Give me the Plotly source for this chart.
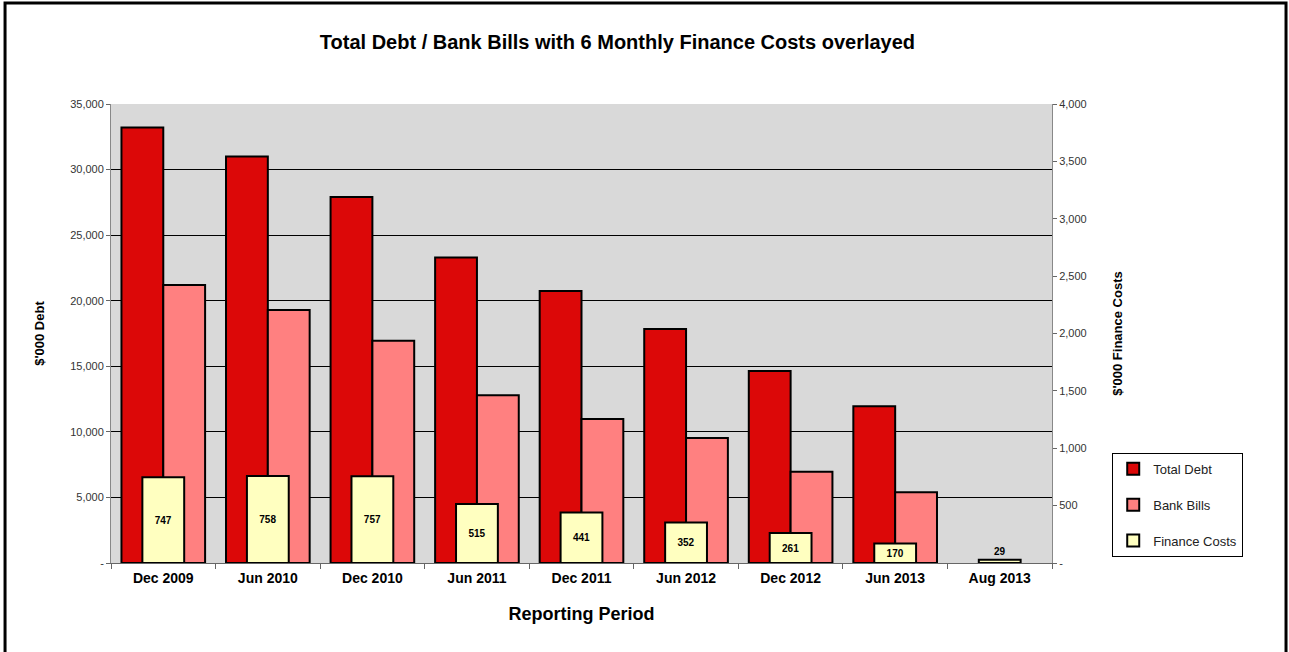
import plotly.graph_objects as go

periods = ['Dec 2009', 'Jun 2010', 'Dec 2010', 'Jun 2011', 'Dec 2011',
           'Jun 2012', 'Dec 2012', 'Jun 2013', 'Aug 2013']
total_debt = [33200, 31000, 27900, 23300, 20750, 17850, 14650, 11950, None]
bank_bills = [21200, 19300, 16950, 12800, 10980, 9530, 6950, 5400, None]
finance_costs = [747, 758, 757, 515, 441, 352, 261, 170, 29]

debt_ticks = [0, 5000, 10000, 15000, 20000, 25000, 30000, 35000]
debt_ticktext = ['-', '5,000', '10,000', '15,000', '20,000', '25,000', '30,000', '35,000']
cost_ticks = [0, 500, 1000, 1500, 2000, 2500, 3000, 3500, 4000]
cost_ticktext = ['-', '500', '1,000', '1,500', '2,000', '2,500', '3,000', '3,500', '4,000']

fig = go.Figure()

fig.add_trace(go.Bar(
    x=periods, y=total_debt, name='Total Debt', legendgroup='a',
    width=0.4, offset=-0.4,
    marker=dict(color='#dc0808', line=dict(color='black', width=2)),
))
fig.add_trace(go.Bar(
    x=periods, y=bank_bills, name='Bank Bills', legendgroup='b',
    width=0.4, offset=0.0,
    marker=dict(color='#ff8080', line=dict(color='black', width=2)),
))
fig.add_trace(go.Bar(
    x=periods, y=finance_costs, name='Finance Costs', legendgroup='c',
    width=0.4, offset=-0.2, yaxis='y2',
    marker=dict(color='#ffffc0', line=dict(color='black', width=2)),
    text=[str(v) for v in finance_costs],
    textposition=['inside'] * 8 + ['outside'],
    insidetextanchor='middle',
    textangle=0,
    textfont=dict(family='Arial', size=10, color='black', weight='bold'),
    cliponaxis=False,
))

fig.update_layout(
    width=1289, height=652,
    margin=dict(l=111, r=237, t=104, b=89),
    paper_bgcolor='white',
    plot_bgcolor='#d9d9d9',
    barmode='overlay',
    font=dict(family='Arial', color='black'),
    title=dict(
        text='<b>Total Debt / Bank Bills with 6 Monthly Finance Costs overlayed</b>',
        x=0.479, xanchor='center', y=0.935, yanchor='middle',
        font=dict(size=20, color='black'),
    ),
    xaxis=dict(
        title=dict(text='<b>Reporting Period</b>', font=dict(size=18), standoff=22),
        tickfont=dict(size=14, family='Arial', color='black', weight='bold'),
        ticks='outside', ticklen=5, tickcolor='#666', tickson='boundaries',
        ticklabelstandoff=2,
        showline=True, linecolor='#666', linewidth=1,
        showgrid=False,
    ),
    yaxis=dict(
        title=dict(text="<b>$'000 Debt</b>", font=dict(size=13), standoff=22),
        range=[0, 35000], tickvals=debt_ticks, ticktext=debt_ticktext,
        tickfont=dict(size=11, color='#333'),
        ticks='outside', ticklen=4, tickcolor='#666',
        showline=True, linecolor='#888', linewidth=1,
        showgrid=True, gridcolor='black', gridwidth=1,
        zeroline=False,
    ),
    yaxis2=dict(
        title=dict(text="<b>$'000 Finance Costs</b>", font=dict(size=13), standoff=27),
        range=[0, 4000], tickvals=cost_ticks, ticktext=cost_ticktext,
        overlaying='y', side='right',
        tickfont=dict(size=11, color='#333'),
        ticks='outside', ticklen=4, tickcolor='#666',
        showline=True, linecolor='#888', linewidth=1,
        showgrid=False, zeroline=False,
    ),
    legend=dict(
        x=1.064, y=0.24, xanchor='left', yanchor='top',
        bgcolor='white', bordercolor='black', borderwidth=1,
        font=dict(size=13, color='#222'),
        tracegroupgap=16, traceorder='grouped',
        itemwidth=30,
    ),
    showlegend=True,
    shapes=[dict(
        type='rect', xref='paper', yref='paper',
        x0=-0.1126, x1=1.2487, y0=-0.25, y1=1.22,
        line=dict(color='black', width=3), fillcolor='rgba(0,0,0,0)',
        layer='above',
    )],
)

fig.write_html('out.html', config={'displayModeBar': False},
               post_script="document.body.style.margin='0';")
